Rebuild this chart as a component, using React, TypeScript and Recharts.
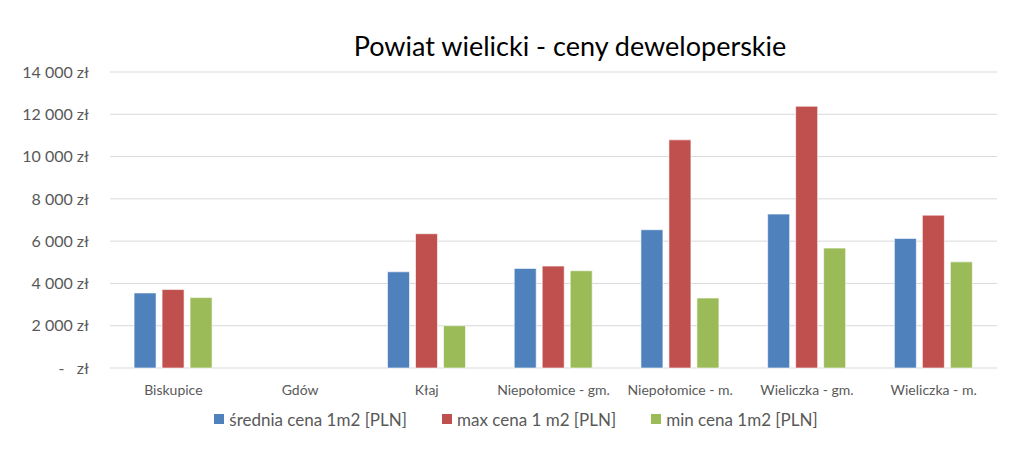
import { BarChart, Bar, XAxis, YAxis, CartesianGrid } from "recharts"

const categories = [
  "Biskupice",
  "Gdów",
  "Kłaj",
  "Niepołomice - gm.",
  "Niepołomice - m.",
  "Wieliczka - gm.",
  "Wieliczka - m.",
]
// Gdów has no data in the source chart
const avgPrice = [3550, null, 4550, 4710, 6540, 7280, 6130]
const maxPrice = [3710, null, 6350, 4820, 10790, 12380, 7230]
const minPrice = [3330, null, 2000, 4600, 3310, 5670, 5020]
const yTicks = [0, 2000, 4000, 6000, 8000, 10000, 12000, 14000]

const series = [
  { key: "avg", name: "średnia cena 1m2 [PLN]", color: "#4F81BD" },
  { key: "max", name: "max cena 1 m2 [PLN]", color: "#C0504D" },
  { key: "min", name: "min cena 1m2 [PLN]", color: "#9BBB59" },
]

const data = categories.map((name, i) => ({
  name,
  avg: avgPrice[i],
  max: maxPrice[i],
  min: minPrice[i],
}))

const FONT = "Lato, 'Open Sans', sans-serif"
const TEXT_GRAY = "#595959"

function formatZl(v: number): string {
  if (v === 0) return "-\u00a0\u00a0\u00a0zł"
  const th = Math.floor(v / 1000)
  const rest = String(v % 1000).padStart(3, "0")
  return `${th}\u00a0${rest}\u00a0zł`
}

function LegendBox() {
  return (
    <div
      style={{
        position: "absolute",
        left: 0,
        width: 1024,
        top: 408,
        height: 22,
        display: "flex",
        justifyContent: "center",
        alignItems: "center",
        gap: 35,
        paddingLeft: 8,
        boxSizing: "border-box",
        fontFamily: FONT,
        fontSize: 17,
        color: TEXT_GRAY,
      }}
    >
      {series.map((s) => (
        <div key={s.key} style={{ display: "flex", alignItems: "center", gap: 5 }}>
          <span style={{ width: 10, height: 10, background: s.color, display: "inline-block" }} />
          <span>{s.name}</span>
        </div>
      ))}
    </div>
  )
}

export default function App() {
  return (
    <div style={{ position: "relative", width: 1024, height: 454, margin: -8, background: "#fff" }}>
      <BarChart
        width={1024}
        height={454}
        data={data}
        margin={{ top: 72, right: 27, bottom: 56, left: 0 }}
        barCategoryGap="19%"
        barGap={6}
      >
        <rect x={5.5} y={6.5} width={1012} height={441} fill="none" stroke="#d4d4d4" strokeWidth={1.5} />
        <text x={570} y={56} textAnchor="middle" fontFamily={FONT} fontSize={27} fill="#000">
          Powiat wielicki - ceny deweloperskie
        </text>
        <CartesianGrid vertical={false} stroke="#d9d9d9" strokeWidth={1} />
        <XAxis
          dataKey="name"
          height={30}
          axisLine={false}
          tickLine={false}
          tickSize={0}
          tickMargin={17}
          interval={0}
          tick={{ fontFamily: FONT, fontSize: 14, fill: TEXT_GRAY }}
        />
        <YAxis
          width={110}
          domain={[0, 14000]}
          ticks={yTicks}
          axisLine={false}
          tickLine={false}
          tickSize={0}
          tickMargin={21}
          tickFormatter={formatZl}
          tick={{ fontFamily: FONT, fontSize: 16, fill: TEXT_GRAY }}
        />
        {series.map((s) => (
          <Bar
            key={s.key}
            dataKey={s.key}
            name={s.name}
            fill={s.color}
            stroke="#ffffff"
            strokeOpacity={0.6}
            strokeWidth={1}
            isAnimationActive={false}
          />
        ))}
      </BarChart>
      <LegendBox />
    </div>
  )
}
